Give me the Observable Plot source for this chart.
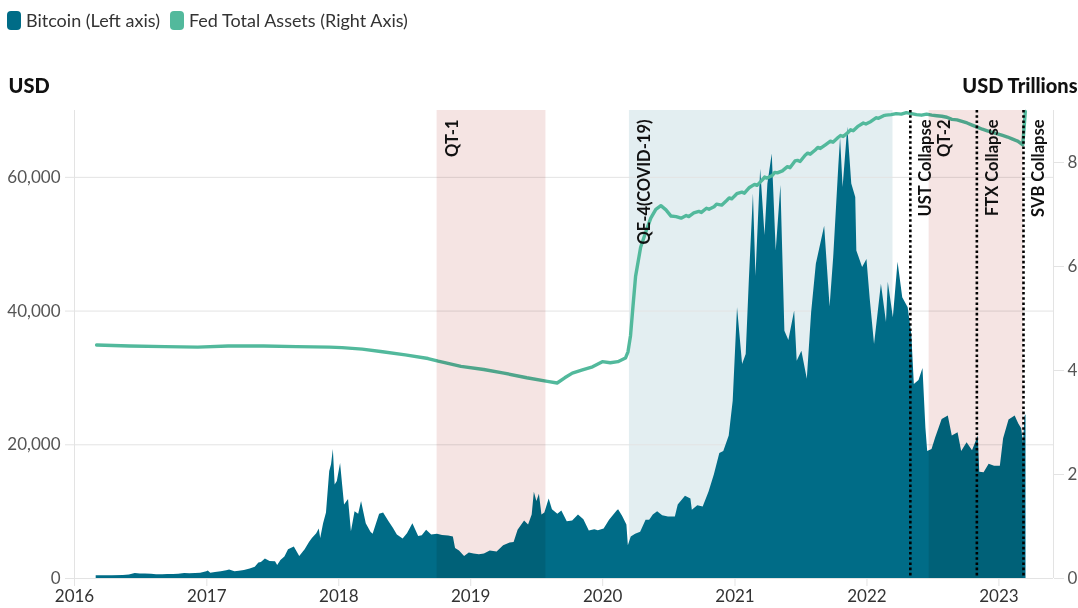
<!DOCTYPE html>
<html>
<head>
<meta charset="utf-8">
<script src="https://cdn.jsdelivr.net/npm/d3@7"></script>
<script src="https://cdn.jsdelivr.net/npm/@observablehq/plot@0.6"></script>
<style>
  html, body { margin: 0; padding: 0; background: #fff; }
  body { width: 1078px; height: 608px; overflow: hidden; font-family: Lato, "Noto Sans", sans-serif; }
  #legend { height: 40px; display: flex; align-items: center; gap: 10px; padding-left: 7px; font-size: 18px; color: #333; }
  .item { display: flex; align-items: center; gap: 5px; }
  .sw { width: 14px; height: 19px; border-radius: 4px; display: inline-block; }
  #chart svg { display: block; overflow: visible; }
</style>
</head>
<body>
<div id="legend"></div>
<div id="chart"></div>
<script>
// ---- Data ----
const seriesNames = ["Bitcoin (Left axis)", "Fed Total Assets (Right Axis)"];
const seriesColors = ["#006c87", "#52b99c"];

const btcDates = [
"2016-03-01","2016-03-15","2016-04-15","2016-05-15","2016-06-01","2016-06-17","2016-07-01","2016-07-15","2016-08-01","2016-08-15",
"2016-09-01","2016-09-15","2016-10-01","2016-10-15","2016-11-01","2016-11-15","2016-12-01","2016-12-15","2017-01-01","2017-01-05",
"2017-01-12","2017-01-25","2017-02-10","2017-02-25","2017-03-05","2017-03-20","2017-04-01","2017-04-15","2017-05-01","2017-05-15",
"2017-05-25","2017-06-01","2017-06-12","2017-06-25","2017-07-10","2017-07-16","2017-07-25","2017-08-05","2017-08-15","2017-08-31",
"2017-09-15","2017-09-30","2017-10-12","2017-10-20","2017-11-01","2017-11-08","2017-11-12","2017-11-20","2017-11-28","2017-12-07",
"2017-12-12","2017-12-17","2017-12-22","2017-12-28","2018-01-06","2018-01-12","2018-01-17","2018-01-28","2018-02-05","2018-02-15",
"2018-02-25","2018-03-05","2018-03-18","2018-03-31","2018-04-06","2018-04-24","2018-05-05","2018-05-20","2018-06-01","2018-06-12",
"2018-06-28","2018-07-10","2018-07-25","2018-08-10","2018-08-20","2018-09-01","2018-09-15","2018-10-01","2018-10-15","2018-11-01",
"2018-11-14","2018-11-20","2018-12-01","2018-12-15","2018-12-28","2019-01-10","2019-01-25","2019-02-08","2019-02-24","2019-03-15",
"2019-04-02","2019-04-20","2019-05-01","2019-05-12","2019-05-30","2019-06-10","2019-06-20","2019-06-26","2019-07-03","2019-07-10",
"2019-07-17","2019-07-25","2019-08-06","2019-08-15","2019-08-30","2019-09-10","2019-09-25","2019-10-10","2019-10-26","2019-11-10",
"2019-11-25","2019-12-10","2019-12-20","2020-01-05","2020-01-20","2020-02-10","2020-02-14","2020-02-25","2020-03-08","2020-03-12",
"2020-03-20","2020-04-01","2020-04-15","2020-04-30","2020-05-10","2020-05-20","2020-06-01","2020-06-15","2020-07-01","2020-07-20",
"2020-07-28","2020-08-17","2020-09-01","2020-09-05","2020-09-20","2020-10-05","2020-10-21","2020-11-05","2020-11-20","2020-12-01",
"2020-12-16","2020-12-27","2021-01-08","2021-01-22","2021-02-01","2021-02-10","2021-02-21","2021-02-28","2021-03-13","2021-03-25",
"2021-04-02","2021-04-14","2021-04-25","2021-05-08","2021-05-19","2021-05-30","2021-06-15","2021-06-22","2021-07-05","2021-07-20",
"2021-08-01","2021-08-14","2021-09-06","2021-09-21","2021-10-01","2021-10-15","2021-10-20","2021-10-27","2021-11-09","2021-11-20",
"2021-12-01","2021-12-04","2021-12-20","2022-01-01","2022-01-10","2022-01-22","2022-02-10","2022-02-24","2022-03-01","2022-03-15",
"2022-03-28","2022-04-10","2022-04-25","2022-05-05","2022-05-12","2022-05-25","2022-06-05","2022-06-13","2022-06-18","2022-06-30",
"2022-07-10","2022-07-28","2022-08-14","2022-08-25","2022-09-10","2022-09-20","2022-10-05","2022-10-20","2022-11-05","2022-11-09",
"2022-11-21","2022-12-05","2022-12-20","2023-01-05","2023-01-14","2023-01-29","2023-02-15","2023-02-25","2023-03-05","2023-03-10",
"2023-03-14","2023-03-17"
];
const btcPrices = [
420,415,430,455,535,760,670,665,620,570,
575,608,615,640,730,715,755,780,1000,1130,
800,890,995,1150,1270,1000,1080,1180,1420,1700,
2300,2400,2900,2550,2500,1950,2700,3200,4300,4700,
3300,4300,5400,6000,6700,7400,6000,8200,9800,16000,
17000,19300,14000,14500,17200,13800,11000,11800,7000,10000,
9600,11500,8200,6900,6600,9600,9800,8500,7500,6500,
5900,6700,8200,6300,6400,7200,6500,6600,6450,6350,
6200,4500,4100,3300,3800,3650,3550,3650,4100,3950,
4900,5300,5400,7200,8600,8000,9500,12900,11500,12600,
9500,9800,11900,10300,9600,10100,8500,8600,9500,8800,
7100,7300,7150,7400,8700,10100,10300,9300,8000,4900,
6200,6600,6900,8700,8700,9500,10000,9400,9200,9200,
11000,12300,11900,10200,10900,10700,12900,15500,18700,19000,
21300,26500,40500,32000,33500,45000,57500,45200,61200,51300,
59000,63500,49000,58800,37000,35600,40000,32500,34000,29800,
39800,47000,52700,40600,48000,61500,65900,58500,67500,59000,
57000,49000,46500,47700,41800,35000,44000,38300,44300,39000,
47300,42000,40500,36500,29000,29600,31400,22500,19000,19300,
21000,23800,24300,21300,21800,19000,20300,19100,21300,15900,
15800,17100,16800,16800,20900,23700,24300,23100,22400,20200,
24200,24500
];

const fedDates = [
"2016-03-02","2016-06-01","2016-09-07","2016-12-07","2017-03-01","2017-06-07","2017-09-06","2017-12-06","2018-01-10","2018-03-07",
"2018-05-02","2018-07-04","2018-09-05","2018-10-03","2018-12-05","2019-02-06","2019-04-03","2019-06-05","2019-08-01","2019-08-28",
"2019-09-18","2019-10-09","2019-11-06","2019-12-04","2019-12-31","2020-01-22","2020-02-12","2020-03-04","2020-03-11","2020-03-18",
"2020-03-25","2020-04-01","2020-04-15","2020-04-29","2020-05-13","2020-05-27","2020-06-10","2020-06-24","2020-07-08","2020-07-22",
"2020-08-05","2020-08-19","2020-08-26","2020-09-09","2020-09-23","2020-09-30","2020-10-14","2020-10-21","2020-11-04","2020-11-11",
"2020-11-25","2020-12-09","2020-12-16","2020-12-23","2021-01-06","2021-01-20","2021-01-27","2021-02-10","2021-02-24","2021-03-03",
"2021-03-17","2021-03-24","2021-03-31","2021-04-14","2021-04-21","2021-04-28","2021-05-12","2021-05-26","2021-06-02","2021-06-16",
"2021-06-23","2021-06-30","2021-07-14","2021-07-21","2021-07-28","2021-08-11","2021-08-18","2021-08-25","2021-09-08","2021-09-22",
"2021-09-29","2021-10-13","2021-10-20","2021-10-27","2021-11-10","2021-11-17","2021-11-24","2021-12-08","2021-12-22","2021-12-29",
"2022-01-12","2022-01-26","2022-02-02","2022-02-16","2022-02-23","2022-03-09","2022-03-23","2022-04-06","2022-04-20","2022-05-04",
"2022-05-18","2022-06-01","2022-06-15","2022-06-29","2022-07-13","2022-07-27","2022-08-10","2022-08-24","2022-09-07","2022-09-21",
"2022-10-05","2022-10-19","2022-11-02","2022-11-16","2022-11-30","2022-12-14","2022-12-28","2023-01-11","2023-01-25","2023-02-08",
"2023-02-22","2023-03-08","2023-03-15"
];
const fedAssets = [
4.49,4.47,4.46,4.45,4.47,4.47,4.46,4.45,4.44,4.41,
4.36,4.30,4.23,4.18,4.08,4.02,3.95,3.86,3.79,3.76,
3.86,3.95,4.01,4.07,4.17,4.15,4.17,4.24,4.36,4.67,
5.25,5.81,6.37,6.66,6.93,7.10,7.17,7.09,6.97,6.96,
6.93,6.98,6.96,7.03,7.06,7.04,7.12,7.10,7.15,7.20,
7.18,7.27,7.32,7.30,7.40,7.43,7.41,7.52,7.58,7.56,
7.66,7.72,7.70,7.75,7.81,7.80,7.84,7.92,7.90,8.03,
8.04,8.02,8.14,8.18,8.16,8.24,8.29,8.27,8.34,8.41,
8.39,8.48,8.52,8.50,8.58,8.63,8.61,8.70,8.76,8.74,
8.79,8.86,8.85,8.90,8.91,8.92,8.94,8.93,8.96,8.94,
8.92,8.91,8.93,8.91,8.90,8.89,8.87,8.83,8.82,8.79,
8.76,8.72,8.68,8.64,8.61,8.58,8.55,8.52,8.49,8.45,
8.41,8.34,8.98
];

const bandNames = ["QE-4(COVID-19)", "QT-1", "QT-2"];
const bandStarts = ["2020-03-15", "2018-09-30", "2022-06-22"];
const bandEnds = ["2022-03-14", "2019-07-28", "2023-03-10"];
const bandFills = ["#e3eef1", "#f5e4e3", "#f5e4e3"];

const eventNames = ["UST Collapse", "FTX Collapse", "SVB Collapse"];
const eventDates = ["2022-05-01", "2022-11-01", "2023-03-10"];

const leftTicks = [0, 20000, 40000, 60000];
const rightTicks = [0, 2, 4, 6, 8];
const yearTicks = ["2016", "2017", "2018", "2019", "2020", "2021", "2022", "2023"];
const xDomainDates = ["2016-01-01", "2023-06-01"];
const leftMax = 70000;
const rightMax = 9;
const leftAxisTitle = "USD";
const rightAxisTitle = "USD Trillions";

// ---- Build ----
const parse = d3.utcParse("%Y-%m-%d");
const ratio = leftMax / rightMax;
const btc = btcDates.map((d, i) => ({date: parse(d), price: btcPrices[i]}));
const fed = fedDates.map((d, i) => ({date: parse(d), v: fedAssets[i] * ratio}));
const bands = bandNames.map((n, i) => ({name: n, start: parse(bandStarts[i]), end: parse(bandEnds[i]), fill: bandFills[i]}));
const events = eventNames.map((n, i) => ({name: n, date: parse(eventDates[i])}));
const labels = bands.map(b => ({name: b.name, date: b.start})).concat(events);
const xDomain = xDomainDates.map(parse);
const years = yearTicks.map(y => d3.utcParse("%Y")(y));

const legend = document.getElementById("legend");
seriesNames.forEach((n, i) => {
  const it = document.createElement("span");
  it.className = "item";
  it.innerHTML = `<span class="sw" style="background:${seriesColors[i]}"></span><span>${n}</span>`;
  legend.appendChild(it);
});

const chart = Plot.plot({
  width: 1078,
  height: 568,
  marginLeft: 74,
  marginRight: 25,
  marginTop: 70,
  marginBottom: 30,
  style: {fontFamily: "Lato, 'Noto Sans', sans-serif", fontSize: "17px", background: "white", overflow: "visible"},
  x: {type: "utc", domain: xDomain},
  y: {domain: [0, leftMax]},
  marks: [
    Plot.rect(bands.slice(0, 1), {x1: "start", x2: "end", fill: "fill"}),
    Plot.gridY(leftTicks, {stroke: "#e3e3e3", strokeOpacity: 1}),
    Plot.ruleX(xDomain, {stroke: "#e3e3e3"}),
    Plot.areaY(btc, {x: "date", y: "price", fill: seriesColors[0]}),
    Plot.line(fed, {x: "date", y: "v", stroke: seriesColors[1], strokeWidth: 3.4}),
    Plot.rect(bands.slice(1), {x1: "start", x2: "end", fill: "fill", mixBlendMode: "multiply"}),
    Plot.ruleX(events, {x: "date", stroke: "#000", strokeWidth: 2.6, strokeDasharray: "2.6,2.6"}),
    Plot.text(labels, {x: "date", text: "name", frameAnchor: "top", rotate: -90, textAnchor: "end", dx: 9, dy: 9, fontWeight: "bold", fontSize: 16.5, fill: "#111"}),
    Plot.axisY(leftTicks, {anchor: "left", tickFormat: d3.format(","), tickSize: 9, tickPadding: 5, stroke: "#e3e3e3", fill: "#555", label: null, fontSize: 17}),
    Plot.axisY(rightTicks.map(d => d * ratio), {anchor: "right", tickFormat: d => d3.format("d")(Math.round(d / ratio)), tickSize: 10, tickPadding: 4, stroke: "#e3e3e3", fill: "#555", label: null, fontSize: 17}),
    Plot.axisX(years, {tickFormat: d3.utcFormat("%Y"), tickSize: 8, tickPadding: 3, stroke: "#e3e3e3", fill: "#333", label: null, fontSize: 17}),
    Plot.text([leftAxisTitle], {text: d => d, frameAnchor: "top-left", textAnchor: "start", dx: -66, dy: -32, fontWeight: "900", fontSize: 20, fill: "#111"}),
    Plot.text([rightAxisTitle], {text: d => d, frameAnchor: "top-right", textAnchor: "end", dx: 24, dy: -32, fontWeight: "900", fontSize: 20, fill: "#111"})
  ]
});
document.getElementById("chart").appendChild(chart);
</script>
</body>
</html>
